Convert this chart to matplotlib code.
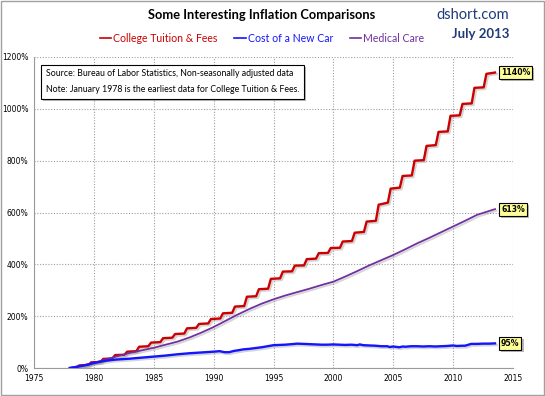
import matplotlib
matplotlib.use("Agg")
import matplotlib.pyplot as plt
import matplotlib.patheffects as pe
from matplotlib.patches import Rectangle

# ---- data ----
tuition_years = list(range(1978, 2013))
tuition_pre = [2, 12, 23, 37, 51, 65, 84, 100, 117, 133, 155, 172, 191, 213, 239,
               277, 306, 346, 373, 396, 422, 444, 464, 490, 525, 568, 638, 696, 743,
               802, 860, 913, 975, 1021, 1083]
tuition_post = [10, 22, 35, 50, 63, 82, 98, 115, 131, 153, 170, 189, 211, 237, 275,
                304, 344, 372, 395, 420, 443, 463, 488, 522, 565, 630, 692, 741, 800,
                857, 911, 973, 1019, 1081, 1135]
tuition_start = (1978.0, 0)
tuition_end = (2013.5, 1140)

medical_x = [1978, 1979, 1980, 1981, 1982, 1983, 1984, 1985, 1986, 1987, 1988, 1989,
             1990, 1991, 1992, 1993, 1994, 1995, 1996, 1997, 1998, 1999, 2000, 2001,
             2002, 2003, 2004, 2005, 2006, 2007, 2008, 2009, 2010, 2011, 2012, 2013.5]
medical_y = [0, 9, 20, 33, 46, 58, 68, 78, 90, 102, 118, 137, 158, 182, 206, 228, 248,
             265, 280, 293, 306, 320, 333, 353, 374, 396, 416, 436, 458, 481, 502, 524,
             546, 568, 591, 613]

car_x = [1978, 1978.5, 1979, 1979.5, 1980, 1980.5, 1981, 1981.5, 1982, 1983, 1984, 1985,
         1986, 1987, 1988, 1989, 1990, 1990.5, 1990.9, 1991.3, 1991.7, 1992, 1992.5, 1993,
         1993.5, 1994, 1994.5, 1995, 1995.5, 1996, 1996.5, 1997, 1997.5, 1998, 1998.5,
         1999, 1999.5, 2000, 2000.5, 2001, 2001.5, 2002, 2002.2, 2002.5, 2003, 2003.5,
         2004, 2004.5, 2004.7, 2005, 2005.5, 2005.8, 2006, 2006.5, 2007, 2007.5, 2008,
         2008.5, 2009, 2009.5, 2010, 2010.3, 2010.8, 2011, 2011.5, 2012, 2012.5, 2013, 2013.5]
car_y = [0, 4, 8, 13, 19, 24, 28, 31, 33, 36, 40, 44, 48, 53, 57, 60, 63, 65, 61, 61, 66,
         68, 72, 74, 77, 80, 84, 88, 89, 90, 92, 94, 93, 92, 91, 90, 90, 91, 90, 89, 90,
         88, 91, 88, 87, 86, 84, 84, 81, 83, 80, 83, 82, 84, 84, 83, 84, 83, 84, 85, 87,
         85, 86, 86, 93, 93, 94, 94, 95]

series_names = ["College Tuition & Fees", "Cost of a New Car", "Medical Care"]
end_labels = ["1140%", "95%", "613%"]
x_ticks = list(range(1975, 2016, 5))
y_ticks = list(range(0, 1201, 200))

# ---- build tuition path from yearly before/after values ----
tx = [tuition_start[0]]
ty = [tuition_start[1]]
for yr, a, b in zip(tuition_years, tuition_pre, tuition_post):
    tx += [yr + 0.55, yr + 0.78]
    ty += [a, b]
tx.append(tuition_end[0])
ty.append(tuition_end[1])

RED = "#CC0000"
BLUE = "#1414FF"
PURPLE = "#7030A0"

fig = plt.figure(figsize=(5.45, 3.96), dpi=100)
ax = fig.add_axes([34/545, 1-368/396, (513-34)/545, (368-57)/396])

shadow = [pe.SimpleLineShadow(offset=(1.2, -1.2), shadow_color="#888888", alpha=0.35), pe.Normal()]
l1, = ax.plot(tx, ty, color=RED, lw=1.7, label=series_names[0], path_effects=shadow, zorder=3)
l2, = ax.plot(car_x, car_y, color=BLUE, lw=1.7, label=series_names[1], path_effects=shadow, zorder=4)
l3, = ax.plot(medical_x, medical_y, color=PURPLE, lw=1.3, label=series_names[2], path_effects=shadow, zorder=3)

ax.set_xlim(1975, 2015)
ax.set_ylim(0, 1200)
ax.set_xticks(x_ticks)
ax.set_yticks(y_ticks)
ax.set_xticklabels([str(v) for v in x_ticks])
ax.set_yticklabels([f"{v}%" for v in y_ticks])
ax.tick_params(labelsize=5.5, length=0, pad=4, colors="#000000")
ax.grid(True, color="#a0a0a0", linestyle=(0, (1, 1.5)), lw=0.8)
ax.set_axisbelow(True)
for s in ["top", "right"]:
    ax.spines[s].set_visible(False)
for s in ["left", "bottom"]:
    ax.spines[s].set_color("#9a9a9a")
    ax.spines[s].set_linewidth(0.8)

# end-of-line value boxes
box = dict(boxstyle="square,pad=0.25", fc="#FFFF99", ec="black", lw=0.8)
box_pe = [pe.withSimplePatchShadow(offset=(1.5, -1.5), shadow_rgbFace="#999999", alpha=0.7)]
for x, y, t in [(tuition_end[0], tuition_end[1], end_labels[0]),
                (car_x[-1], car_y[-1], end_labels[1]),
                (medical_x[-1], medical_y[-1], end_labels[2])]:
    tt = ax.text(x + 0.5, y, t, fontsize=5.6, fontweight="bold", family="DejaVu Sans",
                 va="center", ha="left", bbox=box, zorder=6, clip_on=False)
    tt.get_bbox_patch().set_path_effects(box_pe)

# source box
src = ax.text(1976.0, 1152, "Source: Bureau of Labor Statistics, Non-seasonally adjusted data\n"
              "Note: January 1978 is the earliest data for College Tuition & Fees.",
              fontsize=6.3, family="Lato", va="top", ha="left", linespacing=1.9,
              bbox=dict(boxstyle="square,pad=0.55", fc="white", ec="black", lw=0.8), zorder=7)
src.get_bbox_patch().set_path_effects(box_pe)

# titles
fig.text(262/545, 1-15/396, "Some Interesting Inflation Comparisons", ha="center", va="center",
         fontsize=9.3, fontweight="bold", family="Lato")
fig.text(509/545, 1-15/396, "dshort.com", ha="right", va="center", fontsize=10.5,
         color="#1F3B7A", family="Lato")
fig.text(509/545, 1-34/396, "July 2013", ha="right", va="center", fontsize=9.5,
         color="#1F3B7A", family="Lato", fontweight="bold")

leg = fig.legend(handles=[l1, l2, l3], loc="center", bbox_to_anchor=(262/545, 1-38/396),
                 ncol=3, frameon=False, handlelength=1.1, handletextpad=0.15,
                 columnspacing=1.6, labelcolor="linecolor", prop={"family": "Lato", "size": 7.6})
for h in leg.legend_handles:
    h.set_linewidth(1.2)
    h.set_path_effects([])

# outer border
fig.patches.append(Rectangle((0.002, 0.002), 0.996, 0.996, transform=fig.transFigure,
                             fill=False, ec="#a0a0a0", lw=1.0))

fig.savefig("out.png", dpi=100)
